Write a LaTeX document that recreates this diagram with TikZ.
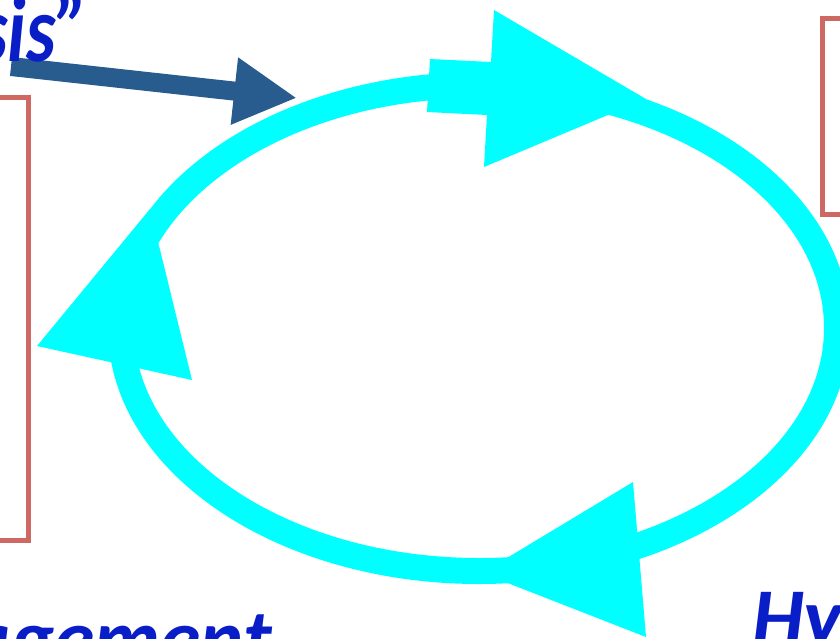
\documentclass[tikz,border=0pt]{standalone}
\usepackage{fontspec}
\setmainfont{Carlito}
\usetikzlibrary{arrows.meta}
\definecolor{ringcyan}{RGB}{0,255,255}
\definecolor{feedblue}{RGB}{40,92,142}
\definecolor{framered}{RGB}{205,105,98}
\definecolor{wordblue}{RGB}{10,30,200}
\tikzset{
  ring/.style={draw=ringcyan,line width=26pt},
  cychead/.style={fill=ringcyan,draw=none},
  framebox/.style={draw=framered,line width=5pt},
  feedarr/.style={draw=feedblue,line width=19pt,-{Triangle[length=63pt,width=63pt]}},
  word/.style={inner sep=0pt,text=wordblue,font=\fontsize{82}{90}\selectfont\bfseries\itshape},
}

\begin{document}
\begin{tikzpicture}[x=1pt,y=-1pt]
\useasboundingbox (0,0) rectangle (840,638);
\clip (0,0) rectangle (840,638);
% side frames
\draw[framebox] (-10,97.5) rectangle (28,540);
\draw[framebox] (822,18) rectangle (860,214);
% the cycle
\draw[ring] (479,328) ellipse [x radius=358pt, y radius=243pt];
\fill[cychead] (430,59) -- (491,62) -- (494,10) -- (646,99) -- (484,167)
  -- (487,115) -- (427,112) -- cycle;
\fill[cychead] (37,346) -- (150,209) -- (192,380) -- cycle;
\fill[cychead] (633,482) -- (482,573) -- (646,637) -- cycle;
% entry arrow
\coordinate (src) at (11,66.5);
\coordinate (dst) at (297,98);
\draw[feedarr] (src) -- (dst);
% captions
\node[word,anchor=base east] (tail) at (89,61)
  {\scalebox{0.8}[1]{\fontsize{94}{100}\selectfont sis”}};
\node[word,anchor=base east] (mgmt) at (272,666) {agement};
\node[word,anchor=base west] (hyp) at (752,645) {Hyp};
\end{tikzpicture}
\end{document}
